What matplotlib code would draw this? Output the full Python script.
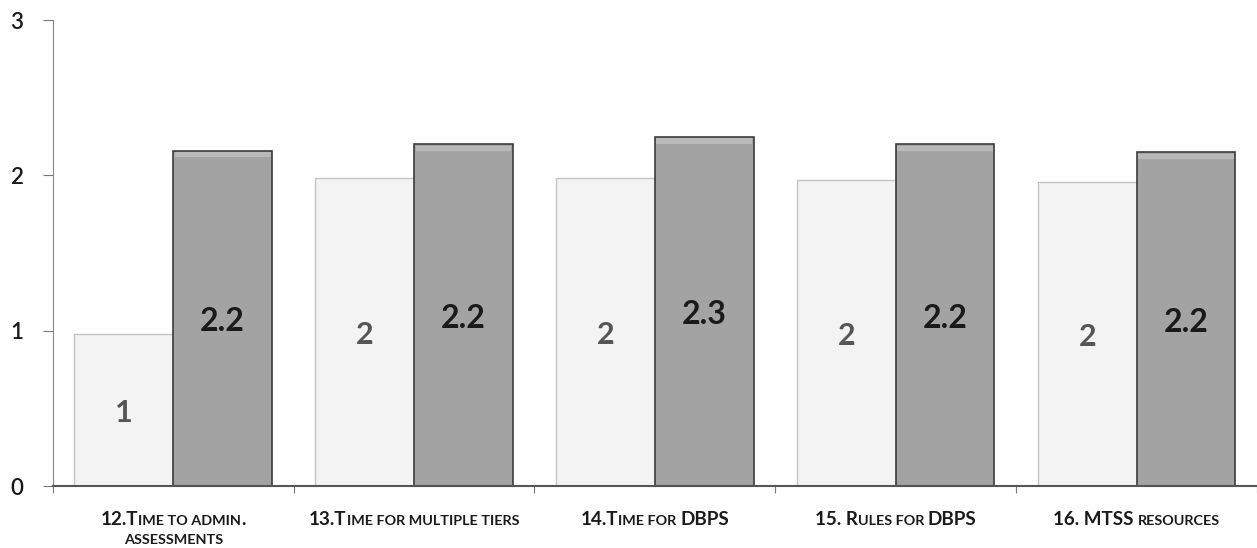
import numpy as np
import matplotlib
matplotlib.use('Agg')
import matplotlib.pyplot as plt
from matplotlib.offsetbox import TextArea, HPacker, VPacker, AnnotationBbox

categories = ["12.Time to admin.\nassessments", "13.Time for multiple tiers",
              "14.Time for DBPS", "15. Rules for DBPS", "16. MTSS resources"]
light_vals = [0.98, 1.98, 1.98, 1.97, 1.96]
dark_vals = [2.16, 2.20, 2.25, 2.20, 2.15]
light_labels = ["1", "2", "2", "2", "2"]
dark_labels = ["2.2", "2.2", "2.3", "2.2", "2.2"]

plt.rcParams['font.family'] = ['Lato', 'DejaVu Sans']

fig = plt.figure(figsize=(12.57, 5.48), dpi=100)
ax = fig.add_axes([0.042, 0.113, 0.958, 0.8505])

x = np.arange(len(categories))
w = 0.41
ax.bar(x - w/2, light_vals, w, color='#f3f3f3', edgecolor='#c4c4c4', linewidth=1.0)
ax.bar(x + w/2, dark_vals, w, color='#a3a3a3', edgecolor='#3c3c3c', linewidth=1.2)
# soft bevel at the top of the dark bars
ax.bar(x + w/2, [0.035] * len(x), w - 0.012, bottom=np.array(dark_vals) - 0.045,
       color='#b9b9b9', linewidth=0)

for i in range(len(categories)):
    ax.text(x[i] - w/2, light_vals[i] / 2 - 0.02, light_labels[i], ha='center', va='center',
            fontsize=22, fontweight='bold', color='#555555')
    ax.text(x[i] + w/2, dark_vals[i] / 2 - 0.02, dark_labels[i], ha='center', va='center',
            fontsize=23, fontweight='bold', color='#1a1a1a')

ax.set_xlim(-0.5, len(categories) - 0.5)
ax.set_ylim(0, 3)
ax.set_yticks([0, 1, 2, 3])
ax.tick_params(axis='y', labelsize=16, length=7, color='#777777', pad=14, labelcolor='#1a1a1a')
for lbl in ax.get_yticklabels():
    lbl.set_fontweight('semibold')
ax.set_xticks(np.arange(-0.5, len(categories), 1.0))
ax.set_xticklabels([])
ax.tick_params(axis='x', length=5, color='#777777', direction='out')
for s in ['top', 'right']:
    ax.spines[s].set_visible(False)
ax.spines['left'].set_color('#888888')
ax.spines['bottom'].set_color('#555555')
ax.spines['bottom'].set_linewidth(1.5)


def small_caps_line(line, big=13.6, small=10.4):
    runs = []
    cur = ''
    cur_small = None
    for ch in line:
        is_small = ch.islower()
        if ch == ' ':
            is_small = cur_small if cur_small is not None else False
        if cur_small is None or is_small == cur_small:
            cur += ch
            cur_small = is_small
        else:
            runs.append((cur, cur_small))
            cur = ch
            cur_small = is_small
    if cur:
        runs.append((cur, cur_small))
    boxes = [TextArea(t.upper(), textprops=dict(fontsize=small if sm else big,
                                                 fontweight='bold', color='#1a1a1a'))
             for t, sm in runs]
    return HPacker(children=boxes, align='baseline', pad=0, sep=0)


for i, cat in enumerate(categories):
    lines = [small_caps_line(l) for l in cat.split('\n')]
    box = VPacker(children=lines, align='center', pad=0, sep=4)
    ab = AnnotationBbox(box, (x[i], 0), xycoords=('data', 'axes fraction'),
                        xybox=(0, -18), boxcoords='offset points',
                        box_alignment=(0.5, 1), frameon=False)
    ax.add_artist(ab)

fig.savefig('out.png', dpi=100)
